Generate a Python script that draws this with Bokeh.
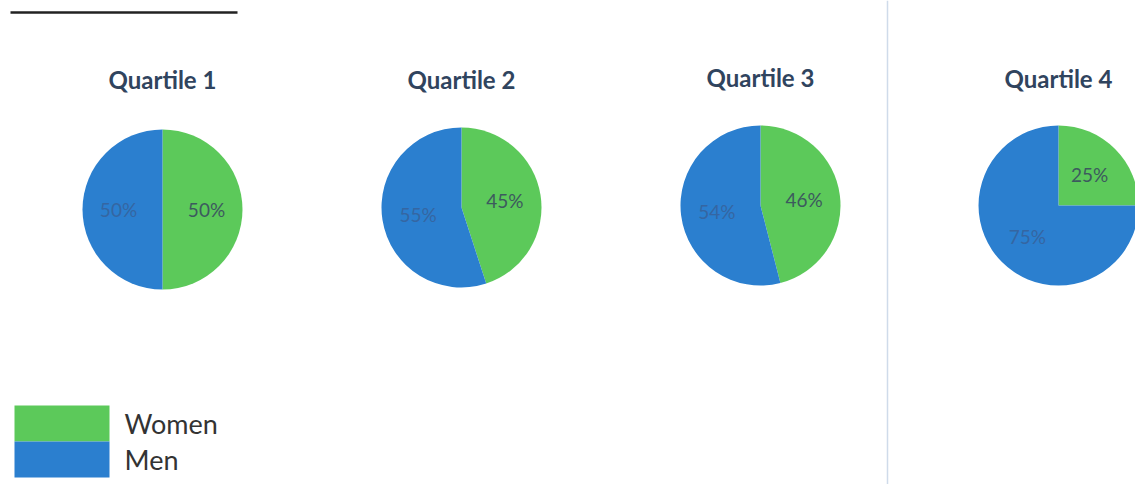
import math
from bokeh.plotting import figure
from bokeh.models import Range1d, Span, ColumnDataSource
from bokeh.core.properties import value
from bokeh.embed import file_html
from bokeh.resources import INLINE

# ---- data ----
quartiles = ["Quartile 1", "Quartile 2", "Quartile 3", "Quartile 4"]
women_pct = [50, 45, 46, 25]
men_pct = [50, 55, 54, 75]
series_names = ["Women", "Men"]

GREEN = "#5cc95a"
BLUE = "#2b7fcf"
colors = [GREEN, BLUE]
label_colors = ["#3c5a5e", "#3566a2"]

W, H = 1135, 484
p = figure(width=W, height=H, output_backend="svg", toolbar_location=None,
           x_range=Range1d(0, W), y_range=Range1d(484 - H, 484), min_border=0)
p.axis.visible = False
p.grid.visible = False
p.outline_line_color = None
p.background_fill_color = "white"
p.border_fill_color = "white"

def Y(ref_y):
    return 484 - ref_y

# layout: pie centres (reference pixel coords)
centers_x = [162, 461, 760, 1058]
centers_y = [209, 207, 205, 205]
title_y = [79, 79, 77, 78]
R = 80

for i, q in enumerate(quartiles):
    cx, cy = centers_x[i], Y(centers_y[i])
    vals = [women_pct[i], men_pct[i]]
    tot = sum(vals)
    # clockwise from 12 o'clock
    starts, ends, lx, ly, txt = [], [], [], [], []
    acc = 0.0
    for v in vals:
        a_hi = math.pi / 2 - 2 * math.pi * acc / tot
        a_lo = math.pi / 2 - 2 * math.pi * (acc + v) / tot
        starts.append(a_lo)
        ends.append(a_hi)
        mid = (a_lo + a_hi) / 2
        lx.append(cx + 0.55 * R * math.cos(mid))
        ly.append(cy + 0.55 * R * math.sin(mid))
        txt.append(f"{v}%")
        acc += v
    src = ColumnDataSource(dict(x=[cx, cx], y=[cy, cy], start=starts, end=ends,
                                color=colors, lx=lx, ly=ly, txt=txt, tc=label_colors))
    p.wedge(x="x", y="y", radius=R, start_angle="start", end_angle="end",
            fill_color="color", line_color=None, source=src)
    p.text(x="lx", y="ly", text="txt", text_color="tc", text_align="center",
           text_baseline="middle", text_font=value("Lato"), text_font_size="19px",
           source=src)
    p.text(x=[cx], y=[Y(title_y[i])], text=[q], text_align="center",
           text_baseline="middle", text_font=value("Lato"), text_font_style="bold",
           text_font_size="24px", text_color="#30445e")

# decorations
p.segment(x0=[10], y0=[Y(12)], x1=[237], y1=[Y(12)], line_color="#222222", line_width=2.5)
p.add_layout(Span(location=887, dimension="height", line_color="#cfdbea", line_width=1.5))

# legend
leg_y = [423, 459]
p.rect(x=[61.5, 61.5], y=[Y(v) for v in leg_y], width=95, height=36,
       fill_color=colors, line_color=None)
p.text(x=[124, 124], y=[Y(v) for v in leg_y], text=series_names, text_align="left",
       text_baseline="middle", text_font=value("Lato"), text_font_size="27px",
       text_color="#333333")

open("out.html", "w").write(file_html(p, INLINE))
